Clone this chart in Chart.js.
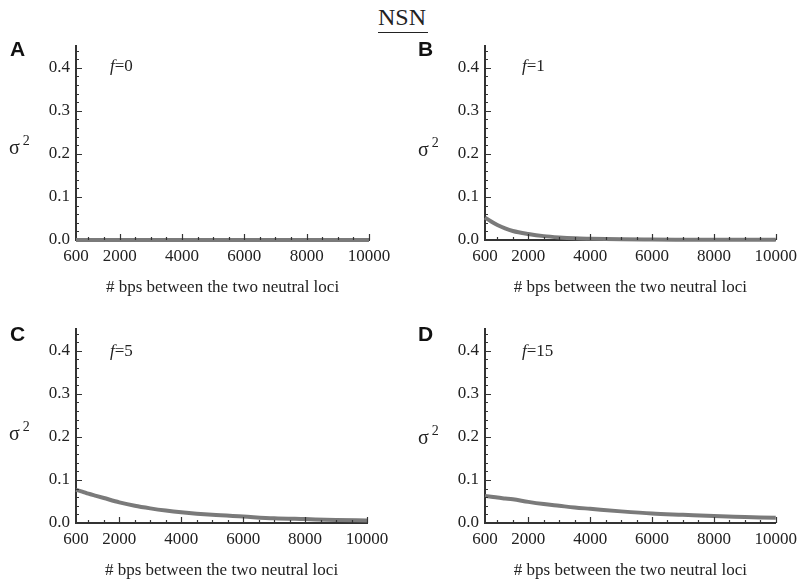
<!DOCTYPE html>
<html>
<head>
<meta charset="utf-8">
<script src="https://cdn.jsdelivr.net/npm/chart.js@4"></script>
<style>
body { margin:0; background:#fff; width:803px; height:581px; position:relative; overflow:hidden; font-family:'Liberation Serif', 'Times New Roman', serif; color:#222; }
canvas { position:absolute; }
.lbl { position:absolute; white-space:nowrap; line-height:1; }
.letter { font-family:'Liberation Sans', Arial, sans-serif; font-weight:bold; font-size:21px; color:#111; }
.sigma { font-size:20px; }
.sigma sup { font-size:14px; vertical-align:9px; margin-left:3px; }
.fl { font-size:17px; }
.title { font-size:24px; left:378px; top:5px; border-bottom:1px solid #222; padding:0 2px 3px 0; }
</style>
</head>
<body>
<div class="lbl title">NSN</div>

<canvas id="chartA" width="400" height="270" style="left:0px;top:30px"></canvas>
<canvas id="chartB" width="394" height="270" style="left:409px;top:30px"></canvas>
<canvas id="chartC" width="400" height="270" style="left:0px;top:313px"></canvas>
<canvas id="chartD" width="394" height="270" style="left:409px;top:313px"></canvas>

<div class="lbl letter" style="left:10px;top:38px">A</div>
<div class="lbl letter" style="left:418px;top:38px">B</div>
<div class="lbl letter" style="left:10px;top:323px">C</div>
<div class="lbl letter" style="left:418px;top:323px">D</div>

<div class="lbl sigma" style="left:9px;top:134px">σ<sup>2</sup></div>
<div class="lbl sigma" style="left:418px;top:136px">σ<sup>2</sup></div>
<div class="lbl sigma" style="left:9px;top:420px">σ<sup>2</sup></div>
<div class="lbl sigma" style="left:418px;top:424px">σ<sup>2</sup></div>

<div class="lbl fl" style="left:110px;top:57px"><i>f</i>=0</div>
<div class="lbl fl" style="left:522px;top:57px"><i>f</i>=1</div>
<div class="lbl fl" style="left:110px;top:342px"><i>f</i>=5</div>
<div class="lbl fl" style="left:522px;top:342px"><i>f</i>=15</div>

<script>
// distance between loci (bp)
const bps = [600, 800, 1000, 1250, 1500, 2000, 2500, 3000, 3500, 4000, 5000, 6000, 7000, 8000, 9000, 10000];

// sigma^2
const sigmaF0  = [0, 0, 0, 0, 0, 0, 0, 0, 0, 0, 0, 0, 0, 0, 0, 0];
const sigmaF1  = [0.052, 0.043, 0.035, 0.027, 0.021, 0.014, 0.009, 0.006, 0.004, 0.003, 0.0015, 0.001, 0.0007, 0.0005, 0.0004, 0.0003];
const sigmaF5  = [0.077, 0.073, 0.068, 0.063, 0.058, 0.048, 0.040, 0.034, 0.029, 0.025, 0.019, 0.015, 0.011, 0.009, 0.007, 0.006];
const sigmaF15 = [0.063, 0.061, 0.059, 0.057, 0.055, 0.049, 0.044, 0.040, 0.036, 0.033, 0.027, 0.022, 0.019, 0.016, 0.014, 0.012];

const xTicks = [600, 2000, 4000, 6000, 8000, 10000];
const yTicks = [0, 0.1, 0.2, 0.3, 0.4];

Chart.defaults.font.family = "'Liberation Serif', 'Times New Roman', serif";
Chart.defaults.color = '#222';

// small inward ticks like the original plot
const innerTicks = {
    id: 'innerTicks',
    afterDatasetsDraw(chart) {
        const ctx = chart.ctx;
        const xs = chart.scales.x;
        const ys = chart.scales.y;
        const x0 = ys.left + ys.width;
        const y0 = xs.top;
        ctx.save();
        ctx.strokeStyle = '#333';
        ctx.lineWidth = 1.2;
        ctx.beginPath();
        for (let v = 0.02; v <= 0.45; v += 0.02) {
            const py = Math.round(ys.getPixelForValue(v)) + 0.5;
            const major = Math.abs(v * 10 - Math.round(v * 10)) < 0.001;
            ctx.moveTo(x0, py);
            ctx.lineTo(x0 + (major ? 6 : 3), py);
        }
        for (let v = 1000; v <= 10000; v += 500) {
            const px = Math.round(xs.getPixelForValue(v)) + 0.5;
            const major = v % 2000 === 0;
            ctx.moveTo(px, y0);
            ctx.lineTo(px, y0 - (major ? 6 : 3));
        }
        ctx.stroke();
        ctx.restore();
    }
};

function makePanel(id, values, rightPad) {
    const ctx = document.getElementById(id).getContext('2d');
    return new Chart(ctx, {
        type: 'line',
        data: {
            datasets: [{
                data: bps.map((x, i) => ({ x: x, y: values[i] })),
                borderColor: '#7a7a7a',
                borderWidth: 4,
                pointRadius: 0,
                cubicInterpolationMode: 'monotone',
                clip: 8
            }]
        },
        options: {
            responsive: false,
            animation: false,
            layout: { padding: { left: 0, top: 11, right: rightPad, bottom: 2 } },
            plugins: { legend: { display: false }, tooltip: { enabled: false } },
            scales: {
                x: {
                    type: 'linear',
                    min: 600,
                    max: 10000,
                    afterBuildTicks: s => { s.ticks = xTicks.map(v => ({ value: v })); },
                    afterFit: s => { s.height = 58; },
                    grid: { display: false, drawTicks: false },
                    border: { display: true, color: '#333', width: 2 },
                    ticks: {
                        padding: 6,
                        maxRotation: 0,
                        autoSkip: false,
                        font: { size: 17 },
                        callback: v => String(v)
                    },
                    title: {
                        display: true,
                        text: '# bps between the two neutral loci',
                        font: { size: 17 },
                        padding: 0
                    }
                },
                y: {
                    min: 0,
                    max: 0.45,
                    afterBuildTicks: s => { s.ticks = yTicks.map(v => ({ value: v })); },
                    afterFit: s => { s.width = 76; },
                    grid: { display: false, drawTicks: false },
                    border: { display: true, color: '#333', width: 2 },
                    ticks: {
                        padding: 6,
                        font: { size: 17 },
                        callback: v => v.toFixed(1)
                    }
                }
            }
        },
        plugins: [innerTicks]
    });
}

makePanel('chartA', sigmaF0, 31);
makePanel('chartB', sigmaF1, 26);
makePanel('chartC', sigmaF5, 33);
makePanel('chartD', sigmaF15, 26);
</script>
</body>
</html>
